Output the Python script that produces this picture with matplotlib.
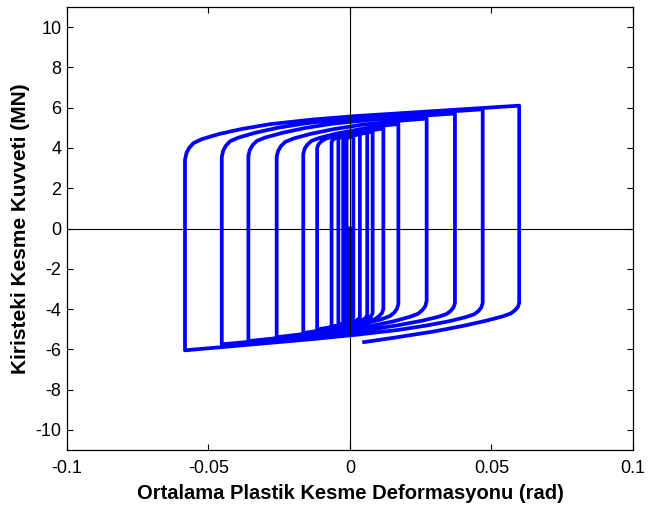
import matplotlib
matplotlib.use("Agg")
import matplotlib.pyplot as plt

plt.rcParams["font.family"] = ["Liberation Sans", "DejaVu Sans"]
plt.rcParams["axes.unicode_minus"] = False

# Link shear force vs. average plastic shear deformation, one list per branch.
# Rising branches start at a negative reversal, falling ones at a positive one.
fall_0_x = [0, 0, -0.0005, -0.0012]
fall_0_y = [0, -4.4, -4.46, -4.51]

rise_1_x = [-0.0012, -0.0012, -0.0007, 0.0003, 0.0012]
rise_1_y = [-4.51, 4.5, 4.52, 4.54, 4.55]
fall_1_x = [0.0012, 0.0012, 0.0007, -0.0003, -0.0018, -0.0024]
fall_1_y = [4.55, -4.4, -4.49, -4.56, -4.63, -4.65]

rise_2_x = [-0.0024, -0.0024, -0.0019, -0.0009, 0.0006, 0.0035]
rise_2_y = [-4.65, 4.5, 4.54, 4.58, 4.62, 4.67]
fall_2_x = [0.0035, 0.0035, 0.003, 0.002, 0.0005, -0.0025, -0.0041]
fall_2_y = [4.67, -4.4, -4.50, -4.58, -4.66, -4.74, -4.77]

rise_3_x = [-0.0041, -0.0041, -0.0036, -0.0026, -0.0011, 0.0019, 0.0061]
rise_3_y = [-4.77, 4.45, 4.52, 4.57, 4.63, 4.68, 4.75]
fall_3_x = [0.0061, 0.0061, 0.0056, 0.0046, 0.0031, 0.0001, -0.0065]
fall_3_y = [4.75, -4.3, -4.43, -4.53, -4.62, -4.72, -4.88]

rise_4_x = [-0.0065, -0.0065, -0.006, -0.005, -0.0035, -0.0005, 0.0055, 0.008]
rise_4_y = [-4.88, 4.3, 4.41, 4.50, 4.58, 4.66, 4.77, 4.81]
fall_4_x = [0.008, 0.008, 0.0075, 0.0065, 0.005, 0.002, -0.004, -0.0116]
fall_4_y = [4.81, -4.2, -4.35, -4.47, -4.58, -4.69, -4.84, -5.01]

rise_5_x = [-0.0116, -0.0116, -0.0111, -0.0101, -0.0086, -0.0056, 0.0004, 0.0084, 0.0118]
rise_5_y = [-5.01, 4.0, 4.18, 4.33, 4.46, 4.57, 4.73, 4.90, 4.96]
fall_5_x = [0.0118, 0.0118, 0.0113, 0.0103, 0.0088, 0.0058, -0.0002, -0.0082, -0.0165]
fall_5_y = [4.96, -4.0, -4.20, -4.35, -4.50, -4.63, -4.82, -5.02, -5.19]

rise_6_x = [-0.0165, -0.0165, -0.016, -0.015, -0.0135, -0.0105, -0.0045, 0.0035, 0.0135, 0.0171]
rise_6_y = [-5.19, 3.7, 3.97, 4.17, 4.36, 4.51, 4.72, 4.93, 5.14, 5.19]
fall_6_x = [0.0171, 0.0171, 0.0166, 0.0156, 0.0141, 0.0111, 0.0051, -0.0029, -0.0129, -0.0259]
fall_6_y = [5.19, -3.75, -3.99, -4.18, -4.35, -4.51, -4.72, -4.95, -5.18, -5.40]

rise_7_x = [-0.0259, -0.0259, -0.0254, -0.0244, -0.0229, -0.0199, -0.0139, -0.0059, 0.0041, 0.0191, 0.0271]
rise_7_y = [-5.40, 3.55, 3.85, 4.09, 4.30, 4.47, 4.70, 4.93, 5.15, 5.37, 5.46]
fall_7_x = [0.0271, 0.0271, 0.0266, 0.0256, 0.0241, 0.0211, 0.0151, 0.0071, -0.0029, -0.0179, -0.0329, -0.0359]
fall_7_y = [5.46, -3.6, -3.86, -4.05, -4.23, -4.39, -4.62, -4.85, -5.08, -5.33, -5.55, -5.59]

rise_8_x = [-0.0359, -0.0359, -0.0354, -0.0344, -0.0329, -0.0299, -0.0239, -0.0159, -0.0059, 0.0091, 0.0241, 0.0371]
rise_8_y = [-5.59, 3.6, 3.90, 4.14, 4.35, 4.52, 4.75, 4.99, 5.21, 5.42, 5.59, 5.71]
fall_8_x = [0.0371, 0.0371, 0.0366, 0.0356, 0.0341, 0.0311, 0.0251, 0.0171, 0.0071, -0.0079, -0.0229, -0.0453]
fall_8_y = [5.71, -3.7, -3.92, -4.09, -4.25, -4.39, -4.59, -4.80, -5.02, -5.26, -5.47, -5.75]

rise_9_x = [-0.0453, -0.0453, -0.0448, -0.0438, -0.0423, -0.0393, -0.0333, -0.0253, -0.0153, -0.0003, 0.0147, 0.0469]
rise_9_y = [-5.75, 3.55, 3.87, 4.12, 4.34, 4.52, 4.76, 5.01, 5.23, 5.46, 5.62, 5.92]
fall_9_x = [0.0469, 0.0469, 0.0464, 0.0454, 0.0439, 0.0409, 0.0349, 0.0269, 0.0169, 0.0019, -0.0131, -0.0583]
fall_9_y = [5.92, -3.7, -3.92, -4.10, -4.26, -4.40, -4.61, -4.82, -5.04, -5.28, -5.49, -6.05]

rise_10_x = [-0.0583, -0.0583, -0.0578, -0.0568, -0.0553, -0.0523, -0.0463, -0.0383, -0.0283, -0.0133, 0.0017, 0.0598]
rise_10_y = [-6.05, 3.4, 3.74, 4.01, 4.24, 4.44, 4.69, 4.94, 5.18, 5.41, 5.58, 6.1]
fall_10_x = [0.0598, 0.0598, 0.0593, 0.0583, 0.0568, 0.0538, 0.0478, 0.0398, 0.0298, 0.0148, 0.005]
fall_10_y = [6.1, -3.7, -3.90, -4.06, -4.22, -4.37, -4.59, -4.84, -5.11, -5.44, -5.64]

branches_x = [fall_0_x, rise_1_x, fall_1_x, rise_2_x, fall_2_x, rise_3_x, fall_3_x,
              rise_4_x, fall_4_x, rise_5_x, fall_5_x, rise_6_x, fall_6_x, rise_7_x,
              fall_7_x, rise_8_x, fall_8_x, rise_9_x, fall_9_x, rise_10_x, fall_10_x]
branches_y = [fall_0_y, rise_1_y, fall_1_y, rise_2_y, fall_2_y, rise_3_y, fall_3_y,
              rise_4_y, fall_4_y, rise_5_y, fall_5_y, rise_6_y, fall_6_y, rise_7_y,
              fall_7_y, rise_8_y, fall_8_y, rise_9_y, fall_9_y, rise_10_y, fall_10_y]

x_ticks = [-0.1, -0.05, 0, 0.05, 0.1]
x_tick_labels = ["-0.1", "-0.05", "0", "0.05", "0.1"]
y_ticks = [-10, -8, -6, -4, -2, 0, 2, 4, 6, 8, 10]

# join branches into one continuous path
gamma = []
shear = []
for bx, by in zip(branches_x, branches_y):
    gamma += bx
    shear += by

fig = plt.figure(figsize=(6.49, 5.07), dpi=100)
ax = fig.add_axes([0.1032, 0.1124, 0.8721, 0.8738])

ax.plot(gamma, shear, color=(0, 0, 1), lw=2.7, solid_joinstyle="round", zorder=2)
ax.axhline(0, color="black", lw=0.8, zorder=3)
ax.axvline(0, color="black", lw=0.8, zorder=3)

ax.set_xlim(-0.1, 0.1)
ax.set_ylim(-11, 11)
ax.set_xticks(x_ticks)
ax.set_xticklabels(x_tick_labels)
ax.set_yticks(y_ticks)
ax.tick_params(direction="in", length=4, width=0.8, labelsize=13,
               top=True, right=True, pad=4)
ax.tick_params(axis="x", pad=7)
for s in ax.spines.values():
    s.set_linewidth(0.9)

ax.set_xlabel("Ortalama Plastik Kesme Deformasyonu (rad)", fontsize=14.5,
              fontweight="bold", labelpad=5)
ax.set_ylabel("Kiristeki Kesme Kuvveti (MN)", fontsize=15,
              fontweight="bold", labelpad=4)

fig.savefig("out.png", dpi=100)
